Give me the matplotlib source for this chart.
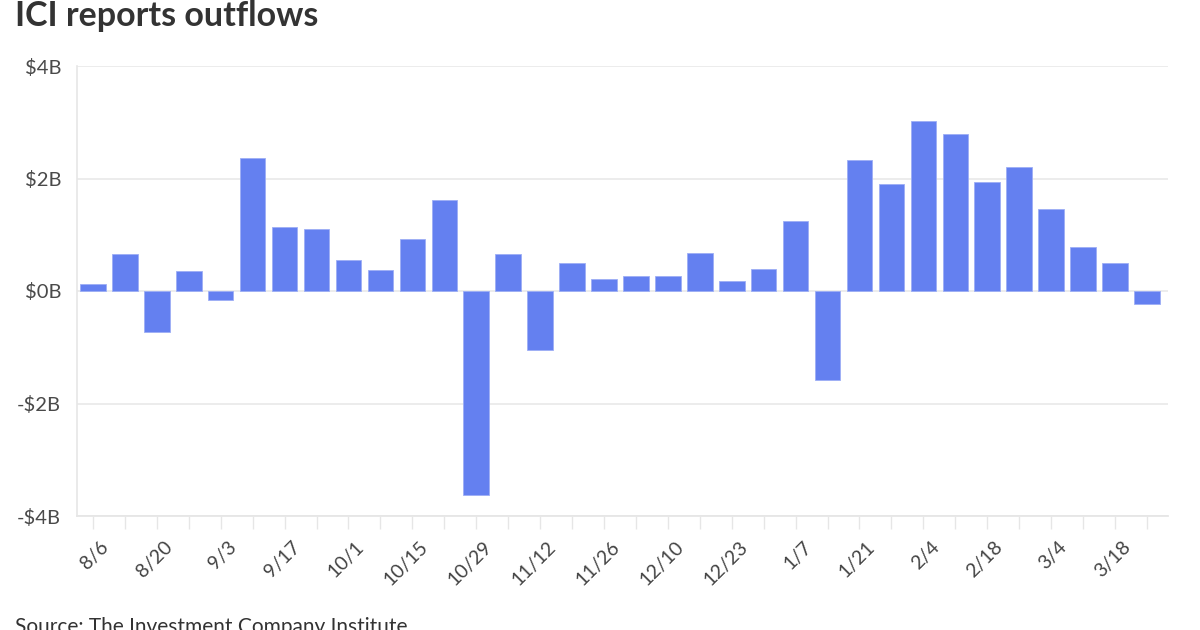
import matplotlib
matplotlib.use("Agg")
import matplotlib.pyplot as plt
from matplotlib.ticker import FuncFormatter
from matplotlib.transforms import ScaledTranslation

weeks = ["8/6", "8/13", "8/20", "8/27", "9/3", "9/10", "9/17", "9/24",
         "10/1", "10/8", "10/15", "10/22", "10/29", "11/5", "11/12", "11/19",
         "11/26", "12/3", "12/10", "12/17", "12/23", "12/31", "1/7", "1/14",
         "1/21", "1/28", "2/4", "2/11", "2/18", "2/25", "3/4", "3/11",
         "3/18", "3/25"]
flows = [0.12, 0.66, -0.73, 0.36, -0.16, 2.37, 1.14, 1.11,
         0.55, 0.37, 0.92, 1.62, -3.63, 0.65, -1.04, 0.49,
         0.22, 0.26, 0.26, 0.68, 0.17, 0.40, 1.24, -1.58,
         2.33, 1.91, 3.02, 2.79, 1.93, 2.20, 1.45, 0.78,
         0.50, -0.23]
y_ticks = [-4, -2, 0, 2, 4]

plt.rcParams['font.family'] = ['Lato', 'DejaVu Sans']

fig = plt.figure(figsize=(12, 6.3), dpi=100)
ax = fig.add_axes([77/1200, 1 - 516/630, (1168 - 77)/1200, (516 - 66)/630])

x = list(range(len(weeks)))
ax.bar(x, flows, width=0.8, color='#6480F0', edgecolor='#9DAEF5', linewidth=0.6, zorder=3)

ax.set_xlim(-0.5, 33.66)
ax.set_ylim(-4, 4)
ax.set_yticks(y_ticks)
ax.yaxis.set_major_formatter(FuncFormatter(lambda v, p: f"${int(v)}B" if v >= 0 else f"-${int(-v)}B"))
ax.grid(axis='y', color='#EBEBEB', linewidth=1.3, zorder=0)
ax.tick_params(axis='y', length=0, pad=11.5, labelsize=14.5, labelcolor='#4a4a4a')

ax.set_xticks(x)
ax.set_xticklabels([w if i % 2 == 0 else "" for i, w in enumerate(weeks)],
                   rotation=45, ha='right', rotation_mode='anchor')
ax.tick_params(axis='x', length=9, width=1, color='#E6E6E6', pad=7,
               labelsize=14, labelcolor='#444444')
shift = ScaledTranslation(7/100, 0, fig.dpi_scale_trans)
for lbl in ax.get_xticklabels():
    lbl.set_transform(lbl.get_transform() + shift)

for s in ['top', 'right']:
    ax.spines[s].set_visible(False)
ax.spines['left'].set_color('#E6E6E6')
ax.spines['left'].set_linewidth(1.2)
ax.spines['bottom'].set_color('#E6E6E6')
ax.spines['bottom'].set_linewidth(1.3)

fig.text(15/1200, 1 - 26/630, "ICI reports outflows", fontsize=24.5, fontweight='bold',
         color='#333333', ha='left', va='baseline')
fig.text(15/1200, 1 - 633/630, "Source: The Investment Company Institute", fontsize=15,
         color='#333333', ha='left', va='baseline')

fig.savefig("out.png", dpi=100, facecolor='white')
